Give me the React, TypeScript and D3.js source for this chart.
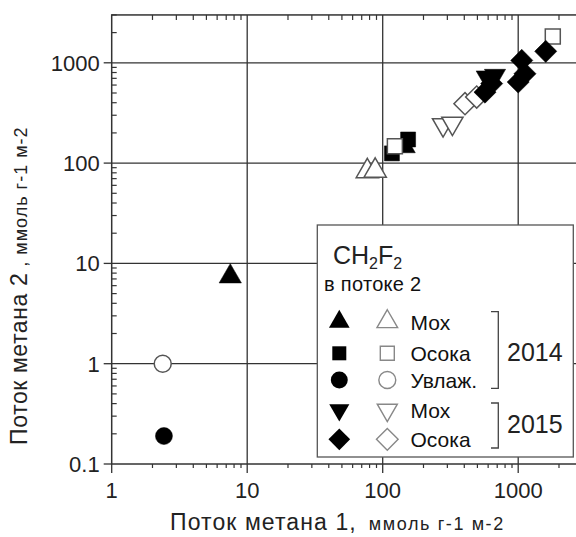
import React from 'react';
import * as d3 from 'd3';

// data: [flux 1, flux 2]
const triFilled2014 = [[7.5, 7.4], [144, 147]];
const sqFilled2014 = [[117, 125], [154, 172]];
const circFilled2014 = [[2.43, 0.19]];
const triOpen2014 = [[77, 83], [88, 84]];
const sqOpen2014 = [[123, 147], [1800, 1830]];
const circOpen2014 = [[2.38, 1.0]];
const downOpen2015 = [[279, 241], [327, 249]];
const diaOpen2015 = [[405, 391], [494, 455]];
const downFilled2015 = [[586, 721], [674, 748]];
const diaFilled2015 = [[1597, 1300], [1062, 1057], [1122, 778], [1000, 643], [637, 620], [569, 510]];

const xTicks = [1, 10, 100, 1000];
const yTicks = [0.1, 1, 10, 100, 1000];
const legendRows = [
  { shape: 'tri', label: 'Мох' },
  { shape: 'sq', label: 'Осока' },
  { shape: 'circ', label: 'Увлаж.' },
  { shape: 'down', label: 'Мох' },
  { shape: 'dia', label: 'Осока' },
];

const W = 576;
const H = 537;
const font = 'Liberation Sans, Arial, sans-serif';

const x = d3.scaleLog().domain([1, 3000]).range([111.7, 111.7 + 135.5 * Math.log10(3000)]);
const y = d3.scaleLog().domain([0.1, 3000]).range([464, 464 - 100.3 * Math.log10(30000)]);

const shapes: Record<string, string> = {
  tri: d3.symbol(d3.symbolTriangle, 215)() as string,
  down: d3.symbol(d3.symbolTriangle, 195)() as string,
  sq: d3.symbol(d3.symbolSquare, 225)() as string,
  circ: d3.symbol(d3.symbolCircle, 227)() as string,
  dia: d3.symbol(d3.symbolSquare, 245)() as string,
};
const legendShapes: Record<string, string> = {
  tri: d3.symbol(d3.symbolTriangle, 185)() as string,
  down: d3.symbol(d3.symbolTriangle, 175)() as string,
  sq: d3.symbol(d3.symbolSquare, 196)() as string,
  circ: d3.symbol(d3.symbolCircle, 225)() as string,
  dia: d3.symbol(d3.symbolSquare, 235)() as string,
};
const rot = (s: string) => (s === 'down' ? ' rotate(180)' : s === 'dia' ? ' rotate(45)' : '');

function Marks({ data, shape, filled }: { data: number[][]; shape: string; filled: boolean }) {
  return (
    <g>
      {data.map((d, i) => (
        <path
          key={i}
          d={shapes[shape]}
          transform={`translate(${x(d[0])},${y(d[1])})${rot(shape)}`}
          fill={filled ? '#000' : '#fff'}
          stroke={filled ? '#000' : '#555'}
          strokeWidth={filled ? 0.5 : 1.5}
        />
      ))}
    </g>
  );
}

function minors(lo: number, hi: number) {
  const out: number[] = [];
  for (let p = lo; p < hi; p++) {
    for (let k = 2; k <= 9; k++) out.push(k * Math.pow(10, p));
  }
  return out;
}

export default function App() {
  const [x0, x1] = x.range();
  const [y0, y1] = y.range();
  const xMinor = minors(0, 4).filter((v) => v <= 3000);
  const yMinor = minors(-1, 4).filter((v) => v <= 3000);
  const axisColor = '#333';

  const lx = 317.3;
  const ly = 225;
  const rowY = [321.7, 353.3, 380, 410, 439.3];

  return (
    <svg width={W} height={H} style={{ position: 'absolute', left: 0, top: 0 }} fontFamily={font}>
      <rect width={W} height={H} fill="#fff" />
      {/* grid */}
      {xTicks.slice(1).map((t) => (
        <line key={t} x1={x(t)} x2={x(t)} y1={y1} y2={y0} stroke={axisColor} strokeWidth={1.3} />
      ))}
      {yTicks.slice(1).map((t) => (
        <line key={t} x1={x0} x2={x1} y1={y(t)} y2={y(t)} stroke={axisColor} strokeWidth={1.3} />
      ))}
      <rect x={x0} y={y1} width={x1 - x0} height={y0 - y1} fill="none" stroke={axisColor} strokeWidth={1.5} />

      {/* minor ticks */}
      {xMinor.map((v) => (
        <g key={v}>
          <line x1={x(v)} x2={x(v)} y1={y0} y2={y0 + 4} stroke={axisColor} strokeWidth={1.2} />
          <line x1={x(v)} x2={x(v)} y1={y1} y2={y1 + 5} stroke={axisColor} strokeWidth={1.2} />
        </g>
      ))}
      {yMinor.map((v) => (
        <line key={v} x1={x0} x2={x0 + 5} y1={y(v)} y2={y(v)} stroke={axisColor} strokeWidth={1.2} />
      ))}

      {/* major ticks + labels */}
      {xTicks.map((t) => (
        <g key={t}>
          <line x1={x(t)} x2={x(t)} y1={y0} y2={y0 + 9} stroke={axisColor} strokeWidth={1.3} />
          <text x={x(t)} y={498} textAnchor="middle" fontSize={22} fill="#222">
            {d3.format('~g')(t)}
          </text>
        </g>
      ))}
      {yTicks.map((t) => (
        <g key={t}>
          <line x1={x0 - 8} x2={x0} y1={y(t)} y2={y(t)} stroke={axisColor} strokeWidth={1.3} />
          <text x={x0 - 12} y={y(t) + 8} textAnchor="end" fontSize={22} fill="#222">
            {d3.format('~g')(t)}
          </text>
        </g>
      ))}

      {/* axis titles */}
      <text x={170} y={530} fontSize={23} fill="#222" letterSpacing={1.1}>
        Поток метана 1,
        <tspan fontSize={18} dx={12} letterSpacing={1.6}>ммоль г-1 м-2</tspan>
      </text>
      <text transform="translate(27,445) rotate(-90)" fontSize={23} fill="#222" letterSpacing={0.6}>
        Поток метана 2
        <tspan fontSize={18} dx={6} letterSpacing={1}>, ммоль г-1 м-2</tspan>
      </text>

      {/* data */}
      <Marks data={sqFilled2014} shape="sq" filled />
      <Marks data={triFilled2014} shape="tri" filled />
      <Marks data={circFilled2014} shape="circ" filled />
      <Marks data={triOpen2014} shape="tri" filled={false} />
      <Marks data={sqOpen2014} shape="sq" filled={false} />
      <Marks data={circOpen2014} shape="circ" filled={false} />
      <Marks data={downOpen2015} shape="down" filled={false} />
      <Marks data={diaOpen2015} shape="dia" filled={false} />
      <Marks data={downFilled2015} shape="down" filled />
      <Marks data={diaFilled2015} shape="dia" filled />

      {/* legend */}
      <rect x={lx} y={ly} width={256} height={232} fill="#fff" stroke="#555" strokeWidth={1.3} />
      <text x={333} y={264} fontSize={25} fill="#222">
        CH<tspan fontSize={16} dy={5}>2</tspan>
        <tspan dy={-5}>F</tspan>
        <tspan fontSize={16} dy={5}>2</tspan>
      </text>
      <text x={324} y={291} fontSize={20} fill="#111" letterSpacing={0.3}>в потоке 2</text>
      {legendRows.map((r, i) => (
        <g key={i}>
          <path d={legendShapes[r.shape]} transform={`translate(339.3,${rowY[i]})${rot(r.shape)}`} fill="#000" />
          <path
            d={legendShapes[r.shape]}
            transform={`translate(387.3,${rowY[i]})${rot(r.shape)}`}
            fill="#fff"
            stroke="#888"
            strokeWidth={1.4}
          />
          <text x={410.5} y={rowY[i] + 8} fontSize={21} fill="#111">{r.label}</text>
        </g>
      ))}
      <path d="M491,311.7H498.3V388.3H491" fill="none" stroke="#444" strokeWidth={1.3} />
      <path d="M491,403H498.3V448H491" fill="none" stroke="#444" strokeWidth={1.3} />
      <text x={507} y={361} fontSize={25} fill="#222">2014</text>
      <text x={507} y={433} fontSize={25} fill="#222">2015</text>
    </svg>
  );
}
